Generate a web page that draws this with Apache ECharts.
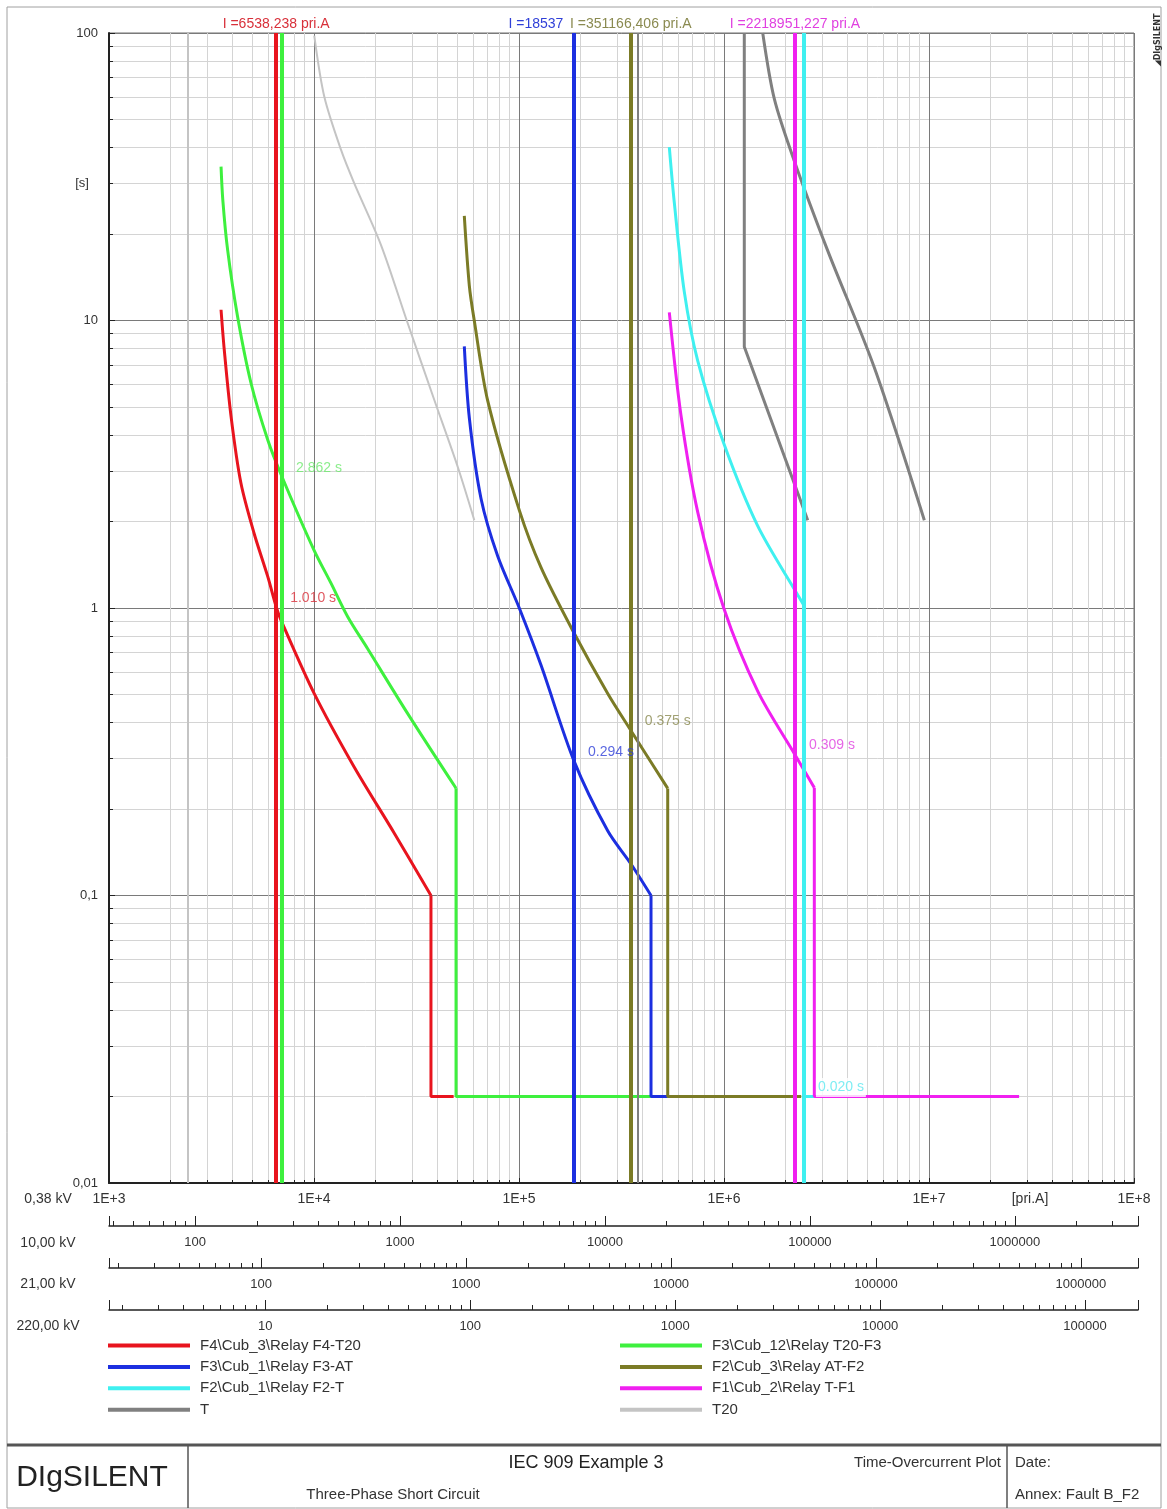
<!DOCTYPE html>
<html><head><meta charset="utf-8">
<script src="https://cdn.jsdelivr.net/npm/echarts@6/dist/echarts.min.js"></script>
<style>html,body{margin:0;padding:0;background:#fff}#c{width:1167px;height:1509px}</style>
</head><body><div id="c"></div>
<script>
// ---------- DATA (current in pri.A referred to 0.38 kV, time in s) ----------
// inverse-time parts of the relay characteristics
const relayF4_T20 = [[3520,10.9],[3650,7.9],[3940,4.63],[4400,2.72],[5100,1.82],[5950,1.285],[6538,1.01],[6900,0.908],[10000,0.506],[15700,0.28],[24600,0.165],[37200,0.1]];
const relayT20_F3 = [[3520,34.3],[3590,26.3],[3790,17.6],[4240,10.3],[4930,6.05],[5950,3.84],[6980,2.862],[10000,1.59],[12100,1.22],[14600,0.933],[18300,0.72],[28600,0.43],[49300,0.236]];
const relayF3_AT = [[54100,8.13],[57250,4.58],[65300,2.40],[78700,1.517],[100300,1.0],[128000,0.633],[185400,0.294],[270800,0.168],[351800,0.1287],[440500,0.1]];
const relayAT_F2 = [[54100,23.1],[57250,13.2],[60500,10.0],[70400,5.25],[100300,2.19],[128000,1.384],[182800,0.835],[270800,0.504],[351166,0.375],[531400,0.2358]];
const relayF2_T = [[541000,40.1],[572000,25.8],[640000,12.6],[744000,7.25],[997000,3.74],[1460000,1.93],[2290000,1.11],[2455000,1.02]];
const relayT_F1 = [[541000,10.67],[617000,4.67],[744000,2.16],[997000,1.0],[1460000,0.514],[2218951,0.309],[2758000,0.237]];
// definite-time (instantaneous) steps
const stepF4_T20 = [[37200,0.1],[37200,0.02],[48000,0.02]];
const stepT20_F3 = [[49300,0.236],[49300,0.02],[531000,0.02]];
const stepF3_AT = [[440500,0.1],[440500,0.02],[531000,0.02]];
const stepAT_F2 = [[531400,0.2358],[531400,0.02],[2380000,0.02]];
const stepF2_T = [[2455000,1.02],[2455000,0.02],[27500000,0.02]];
const stepT_F1 = [[2758000,0.237],[2758000,0.02],[27500000,0.02]];
// transformer characteristics
const trafoT_a = [[1256000,100],[1256000,8.1],[2561000,2.02]];
const trafoT_b = [[1545000,100],[1760000,59],[2203000,35.9],[3205000,17.5],[5410000,6.86],[9490000,2.02]];
const trafoT20 = [[10030,98],[11230,60],[13550,39.2],[15720,30],[21230,18.3],[28650,9.78],[38630,5.29],[50230,3.10],[60540,2.02]];

// fault current markers (vertical lines)
const markerF4 = 6538.238, markerT20F3 = 6982, markerF3 = 185376, markerF2 = 351166.406, markerF2T = 2455000, markerF1 = 2218951.227, markerT = 380600, markerT20 = 2429;
const markerTexts = {F4:'I =6538,238 pri.A', F3:'I =18537', F2:'I =351166,406 pri.A', F1:'I =2218951,227 pri.A'};

// trip time labels
const tripLabels = [
  {key:'green', I:6982, t:2.862, text:'2.862 s'},
  {key:'red', I:6538, t:1.01, text:'1.010 s'},
  {key:'blue', I:185400, t:0.294, text:'0.294 s'},
  {key:'olive', I:351166, t:0.375, text:'0.375 s'},
  {key:'magenta', I:2218951, t:0.309, text:'0.309 s'},
  {key:'cyan', I:2455000, t:0.02, text:'0.020 s', box:true}
];

// voltage levels of the current scales
const kvLevels = [0.38, 10, 21, 220];
const kvLabels = ['0,38 kV','10,00 kV','21,00 kV','220,00 kV'];
const xRange = [1e3, 1e8];
const yRange = [0.01, 100];

// ---------- STYLE ----------
const C = {red:'#e8141e', green:'#3ef03e', blue:'#1c2fe0', cyan:'#3ff0f0', olive:'#7b7b26', magenta:'#f020f0', T:'#808080', T20:'#c4c4c4'};
const LC = {red:'#d8303a', green:'#6ee86e', blue:'#3040d8', cyan:'#5ee8f0', olive:'#8a8a50', magenta:'#e040e0'};
const FONT = '"Liberation Sans",Arial,sans-serif';
const N = {
  F4:'F4\\Cub_3\\Relay F4-T20', F3:'F3\\Cub_1\\Relay F3-AT', F2T:'F2\\Cub_1\\Relay F2-T', T:'T',
  T20F3:'F3\\Cub_12\\Relay T20-F3', F2:'F2\\Cub_3\\Relay AT-F2', F1:'F1\\Cub_2\\Relay T-F1', T20:'T20'
};

function curve(name, data, color, width, marker, smooth) {
  const s = {
    type:'line', name, data, color, xAxisIndex:0, yAxisIndex:0, z:2,
    showSymbol:false, symbol:'none', animation:false, silent:true,
    smooth: smooth ? 0.3 : false,
    lineStyle:{color, width}, emphasis:{disabled:true}
  };
  if (marker) {
    s.markLine = {
      silent:true, animation:false, symbol:['none','none'],
      lineStyle:{color, width: marker.width || 3, type:'solid'},
      emphasis:{disabled:true},
      label: marker.text ? Object.assign({show:true, position:'end', formatter: marker.text, color: marker.lcolor || color,
        fontFamily:FONT, fontSize:14, distance:1}, marker.labelExtra || {}) : {show:false},
      data:[{xAxis: marker.I}]
    };
  }
  return s;
}

const series = [
  curve(N.T20, trafoT20, C.T20, 2, {I:markerT20, width:2}, true),
  curve(N.T, trafoT_a, C.T, 3, {I:markerT, width:2}),
  curve(N.T, trafoT_b, C.T, 3, null, true),
  curve(N.T20F3, relayT20_F3, C.green, 3, {I:markerT20F3, width:4}, true),
  curve(N.T20F3, stepT20_F3, C.green, 3),
  curve(N.F4, relayF4_T20, C.red, 3, {I:markerF4, width:4, text:markerTexts.F4, lcolor:LC.red, labelExtra:{backgroundColor:'#fff', padding:[1,2]}}, true),
  curve(N.F4, stepF4_T20, C.red, 3),
  curve(N.F3, relayF3_AT, C.blue, 3, {I:markerF3, width:4, text:markerTexts.F3, lcolor:LC.blue, labelExtra:{padding:[1,76,1,0]}}, true),
  curve(N.F3, stepF3_AT, C.blue, 3),
  curve(N.F2, relayAT_F2, C.olive, 3, {I:markerF2, width:4, text:markerTexts.F2, lcolor:LC.olive, labelExtra:{backgroundColor:'#fff', padding:[1,2]}}, true),
  curve(N.F2, stepAT_F2, C.olive, 3),
  curve(N.F2T, relayF2_T, C.cyan, 3, {I:markerF2T, width:4}, true),
  curve(N.F2T, stepF2_T, C.cyan, 3),
  curve(N.F1, relayT_F1, C.magenta, 3, {I:markerF1, width:4, text:markerTexts.F1, lcolor:LC.magenta, labelExtra:{backgroundColor:'#fff', padding:[1,2]}}, true),
  curve(N.F1, stepT_F1, C.magenta, 3),
  {
    type:'scatter', name:'_labels', xAxisIndex:0, yAxisIndex:0, z:20, symbolSize:0, silent:true, animation:false,
    data: tripLabels.map(d => ({value:[d.I, d.t], txt:d.text,
      label:{color:LC[d.key], backgroundColor: d.box ? '#fff' : 'transparent'}})),
    label:{show:true, position:'right', distance:0, offset:[12,-9], formatter:p=>p.data.txt, fontFamily:FONT, fontSize:14,
      padding:[2,2,3,2]},
    emphasis:{disabled:true}
  }
];

// ---------- AXES ----------
const gridMain = {left:109, right:33, top:33, height:1150, show:true, borderColor:'#707070', borderWidth:1, backgroundColor:'transparent'};
const lineY = [1226, 1268, 1310];
const grids = [gridMain].concat(lineY.map(y => ({left:109, right:29, top:y-10, height:10, show:false})));

const xAxes = [{
  gridIndex:0, type:'log', min:xRange[0], max:xRange[1], position:'bottom',
  axisLine:{show:true, onZero:false, lineStyle:{color:'#222', width:2}},
  axisTick:{show:true, inside:true, length:5, lineStyle:{color:'#222'}},
  minorTick:{show:true, splitNumber:9, length:3, lineStyle:{color:'#222'}},
  axisLabel:{formatter:v=>'1E+'+Math.round(Math.log10(v)), fontFamily:FONT, fontSize:14, color:'#333', margin:9, showMinLabel:true, showMaxLabel:true},
  splitLine:{show:true, lineStyle:{color:'#7a7a7a', width:1}},
  minorSplitLine:{show:true, lineStyle:{color:'#d4d4d4', width:1}}
}];
for (let k = 1; k < kvLevels.length; k++) {
  const r = kvLevels[0] / kvLevels[k];
  xAxes.push({
    gridIndex:k, type:'log', min:xRange[0]*r, max:(xRange[1]+5e6)*r, position:'bottom',
    axisLine:{show:true, onZero:false, lineStyle:{color:'#222', width:1.5}},
    axisTick:{show:true, inside:true, length:10, lineStyle:{color:'#222'}},
    minorTick:{show:true, splitNumber:9, length:5, lineStyle:{color:'#222'}},
    axisLabel:{showMinLabel:false, showMaxLabel:false, fontFamily:FONT, fontSize:13, color:'#333', margin:10,
      formatter:v=>String(Math.round(v))},
    splitLine:{show:false}, minorSplitLine:{show:false}
  });
}
const yAxes = [{
  gridIndex:0, type:'log', min:yRange[0], max:yRange[1],
  axisLine:{show:true, lineStyle:{color:'#222', width:2}},
  axisTick:{show:true, inside:true, length:6, lineStyle:{color:'#222'}},
  minorTick:{show:true, splitNumber:9, length:4, lineStyle:{color:'#222'}},
  axisLabel:{formatter:v=>String(+v.toPrecision(6)).replace('.', ','), fontFamily:FONT, fontSize:13, color:'#333', margin:11},
  splitLine:{show:true, lineStyle:{color:'#7a7a7a', width:1}},
  minorSplitLine:{show:true, lineStyle:{color:'#d4d4d4', width:1}}
}].concat(lineY.map((y,i) => ({gridIndex:i+1, type:'value', min:0, max:1, show:false})));

// ---------- GRAPHICS (frame, title block, annotations) ----------
const txt = (x, y, text, opt) => Object.assign({type:'text', x, y, silent:true, z:50,
  style:Object.assign({text, fill:'#333', font:'15px '+FONT, align:'left', verticalAlign:'middle'}, (opt&&opt.style)||{})}, opt&&opt.rot!=null?{rotation:opt.rot}:{});
const graphic = [
  {type:'rect', shape:{x:7, y:7, width:1154, height:1501}, style:{fill:'none', stroke:'#a0a0a0', lineWidth:1}, silent:true, z:40},
  {type:'line', shape:{x1:7, y1:1445, x2:1161, y2:1445}, style:{stroke:'#555', lineWidth:3}, silent:true, z:40},
  {type:'line', shape:{x1:188, y1:1445, x2:188, y2:1508}, style:{stroke:'#555', lineWidth:1.5}, silent:true, z:40},
  {type:'line', shape:{x1:1007, y1:1445, x2:1007, y2:1508}, style:{stroke:'#555', lineWidth:1.5}, silent:true, z:40},
  txt(92, 1478, 'DIgSILENT', {style:{font:'30px '+FONT, align:'center', fill:'#222'}}),
  txt(586, 1463, 'IEC 909 Example 3', {style:{font:'18px '+FONT, align:'center', fill:'#222'}}),
  txt(393, 1495, 'Three-Phase Short Circuit', {style:{align:'center'}}),
  txt(1001, 1463, 'Time-Overcurrent Plot', {style:{align:'right'}}),
  txt(1015, 1463, 'Date:'),
  txt(1015, 1495, 'Annex: Fault B_F2'),
  txt(82, 183, '[s]', {style:{align:'center', font:'13px '+FONT}}),
  txt(1030, 1199, '[pri.A]', {style:{align:'center', font:'14px '+FONT}}),
  txt(1158, 40, '\u25E2DIgSILENT', {rot:Math.PI/2, style:{font:'bold 8px "DejaVu Sans",sans-serif', align:'center', fill:'#333'}})
];
kvLabels.forEach((l, i) => graphic.push(txt(48, [1199, 1243, 1284, 1326][i], l, {style:{align:'center', font:'14px '+FONT}})));

// ---------- LEGEND ----------
const legendCommon = {orient:'vertical', icon:'rect', itemWidth:82, itemHeight:4, itemGap:6.4, padding:0, selectedMode:false,
  textStyle:{fontFamily:FONT, fontSize:15, color:'#333', padding:[0,0,0,5]}};
const legend = [
  Object.assign({left:108, top:1338, data:[N.F4, N.F3, N.F2T, N.T]}, legendCommon),
  Object.assign({left:620, top:1338, data:[N.T20F3, N.F2, N.F1, N.T20]}, legendCommon)
];

const chart = echarts.init(document.getElementById('c'), null, {renderer:'canvas'});
chart.setOption({
  animation:false, backgroundColor:'#fff',
  grid:grids, xAxis:xAxes, yAxis:yAxes, series, legend, graphic
});
</script></body></html>
